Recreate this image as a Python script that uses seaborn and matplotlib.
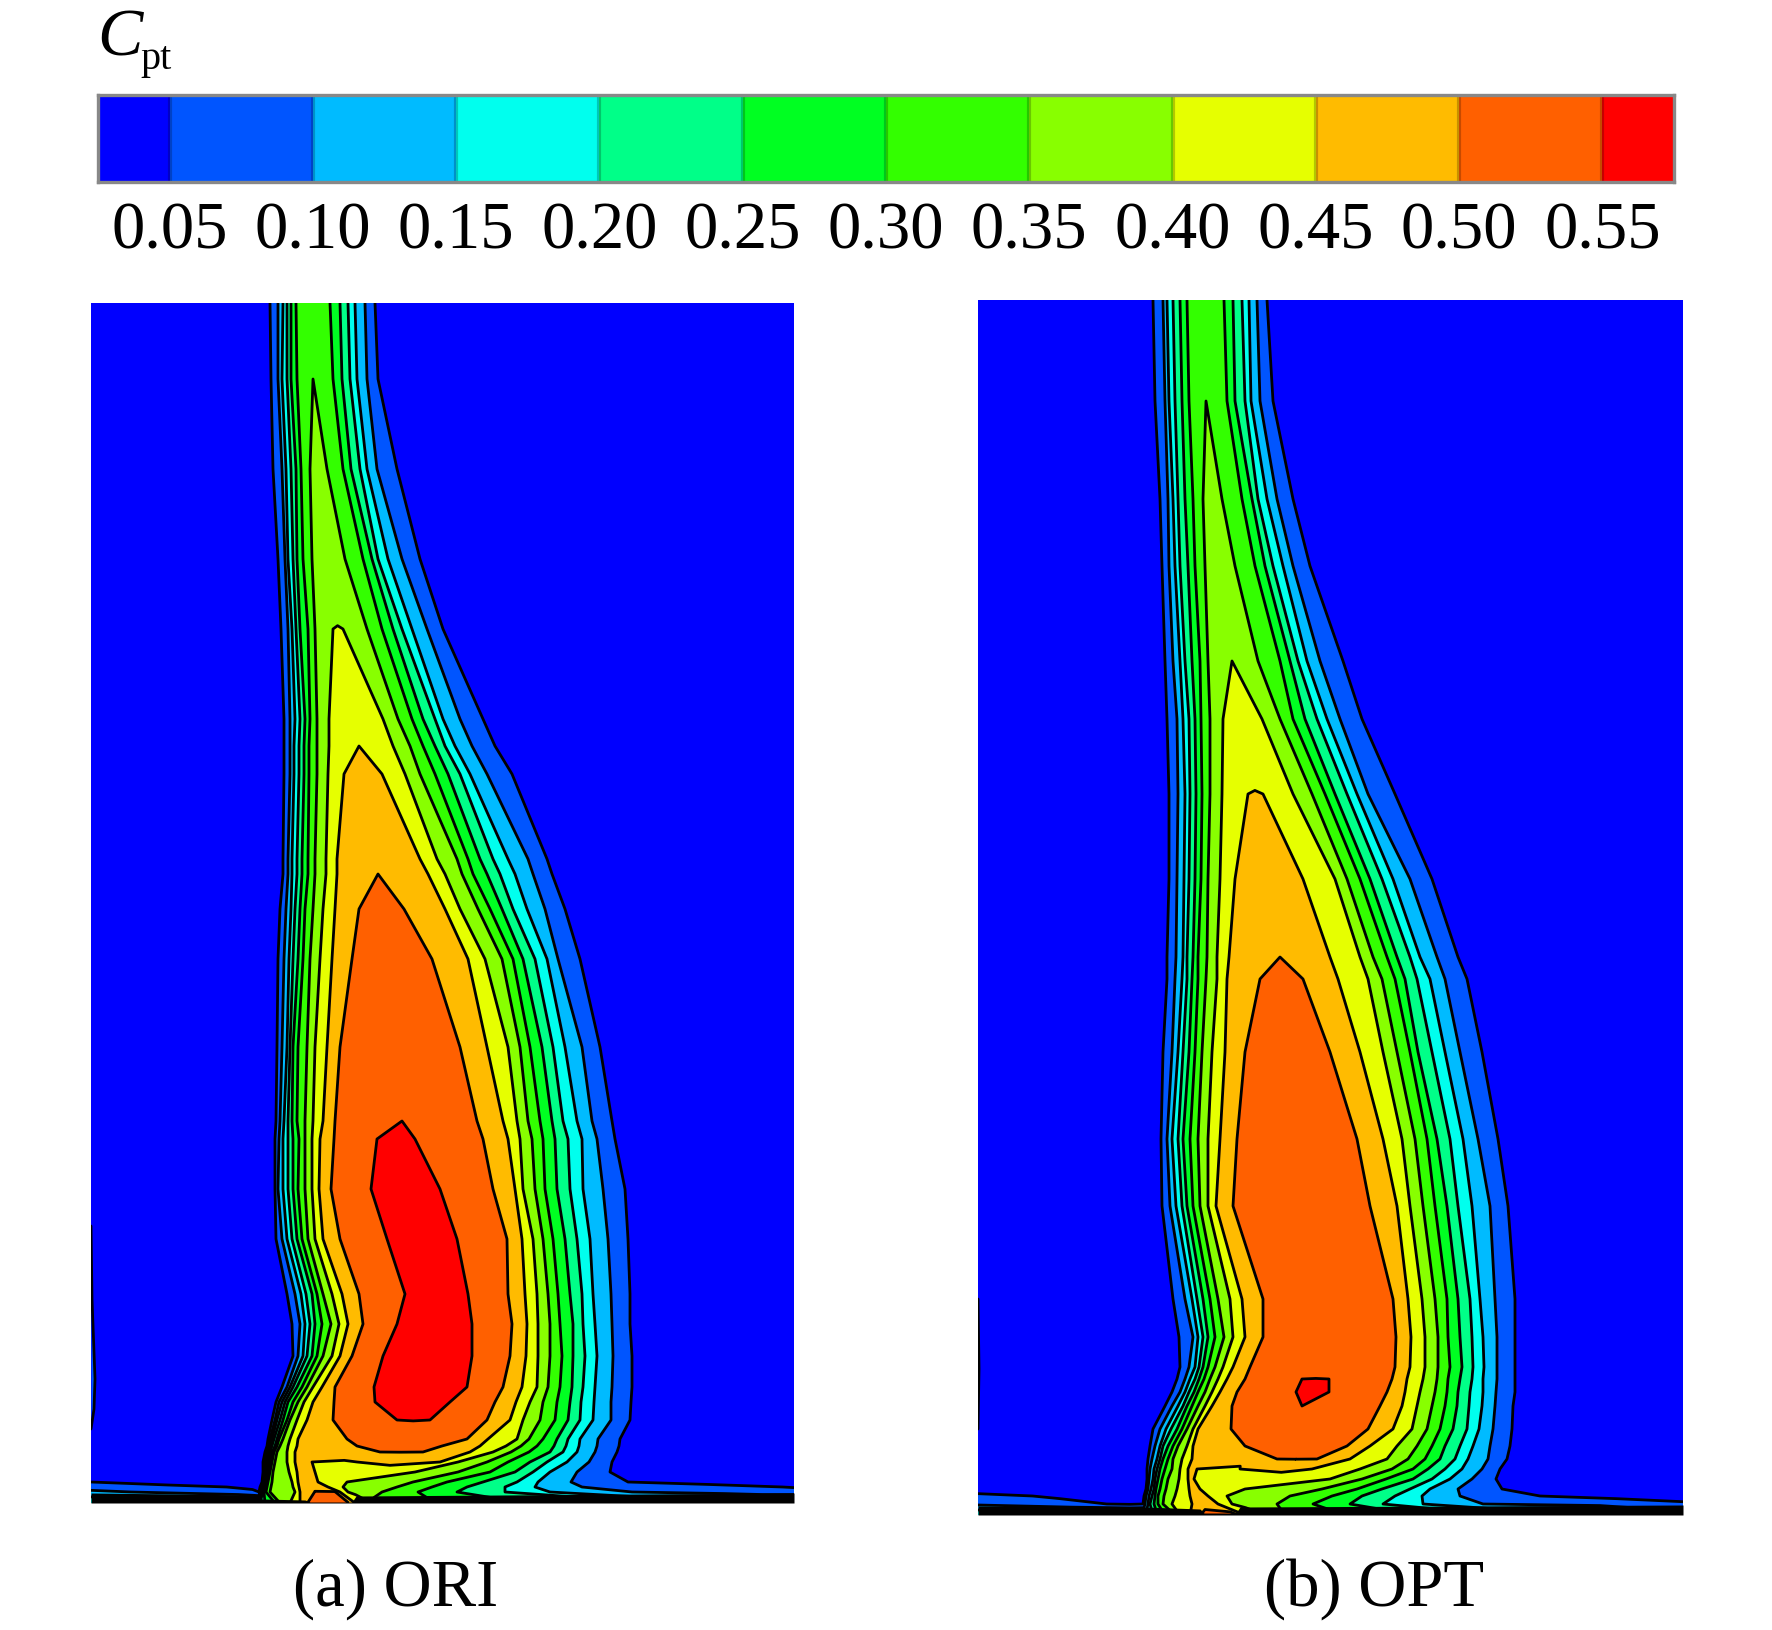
import numpy as np
import matplotlib
matplotlib.use('Agg')
import matplotlib.pyplot as plt
from matplotlib.colors import ListedColormap, BoundaryNorm
import seaborn as sns

W, H = 1772, 1631

# contour levels and band colours of the Cpt legend
levels = [0.05, 0.10, 0.15, 0.20, 0.25, 0.30, 0.35, 0.40, 0.45, 0.50, 0.55]
tick_labels = ['0.05', '0.10', '0.15', '0.20', '0.25', '0.30', '0.35', '0.40', '0.45', '0.50', '0.55']
band_colors = ['#0000ff', '#0055ff', '#00bbff', '#00ffee', '#00ff88', '#00ff22',
               '#33ff00', '#88ff00', '#e6ff00', '#ffbb00', '#ff6000', '#ff0000']
bar_cells = [0.04, 0.06, 0.09, 0.11, 0.14, 0.16, 0.19, 0.21, 0.24, 0.26, 0.29,
             0.31, 0.34, 0.36, 0.39, 0.41, 0.44, 0.46, 0.49, 0.51, 0.54, 0.56]

# ORI: where each level crosses a row (left and right of the core)
ori_y = [304, 380, 470, 560, 630, 720, 747, 775, 860, 875, 910, 960, 1048, 1122, 1140,
         1190, 1240, 1295, 1325, 1357, 1388, 1403, 1421, 1440, 1447, 1453]
ori_peak = [.33, .35, .38, .38, .401, .43, .45, .48, .48, .50, .53, .53, .53, .55, .58,
            .58, .58, .58, .58, .58, .58, .58, .551, .53, .53, .501]
ori_left = [
    [270, 278, 283, 287, 291, 296],
    [271, 278, 282, 287, 291, 297, 312],
    [273, 282, 286, 291, 296, 301, 310],
    [278, 285, 288, 293, 297, 303, 312],
    [281, 288, 292, 296, 300, 308, 315, 333],
    [284, 290, 295, 300, 305, 310, 317, 329],
    [284, 290, 294, 299, 304, 309, 317, 329, 358],
    [284, 290, 294, 299, 304, 309, 317, 328, 344],
    [283, 288, 292, 297, 302, 308, 315, 326, 337],
    [283, 288, 292, 297, 302, 308, 315, 326, 337, 377],
    [280, 286, 291, 295, 300, 305, 313, 323, 335, 359],
    [278, 284, 289, 293, 298, 303, 310, 320, 332, 352],
    [277, 282, 287, 290, 293, 298, 307, 315, 327, 340],
    [276, 280, 284, 288, 292, 297, 305, 313, 323, 335, 401],
    [275, 279, 283, 288, 293, 299, 305, 312, 320, 334, 377],
    [275, 278, 283, 288, 293, 298, 305, 312, 319, 331, 371],
    [276, 282, 287, 292, 297, 302, 308, 315, 323, 340, 387],
    [287, 295, 301, 306, 312, 317, 323, 332, 342, 359, 405],
    [292, 300, 305, 310, 315, 322, 331, 339, 348, 363, 397],
    [293, 298, 303, 307, 312, 317, 323, 332, 340, 352, 383],
    [282, 287, 290, 293, 297, 302, 307, 313, 322, 335, 374],
    [276, 279, 282, 285, 288, 293, 298, 304, 313, 334, 375],
    [272, 275, 277, 280, 283, 287, 290, 297, 307, 333, 397],
    [268, 270, 272, 274, 277, 279, 283, 290, 298, 347],
    [267, 269, 270, 272, 275, 277, 280, 288, 297, 357],
    [265, 267, 268, 270, 272, 274, 277, 287, 295, 380],
]
ori_right = [
    [375, 365, 355, 348, 340, 330],
    [378, 367, 357, 350, 342, 333, 314],
    [397, 377, 367, 360, 351, 343, 327],
    [420, 402, 388, 378, 372, 363, 345],
    [443, 427, 412, 402, 393, 382, 367, 343],
    [483, 460, 443, 435, 423, 412, 398, 383],
    [495, 472, 455, 445, 435, 423, 410, 393, 360],
    [512, 487, 470, 460, 448, 435, 420, 405, 382],
    [547, 528, 508, 493, 480, 468, 457, 437, 420],
    [552, 533, 515, 500, 487, 473, 462, 445, 428, 379],
    [565, 545, 527, 513, 502, 490, 478, 460, 445, 404],
    [580, 558, 547, 535, 523, 513, 502, 485, 468, 432],
    [600, 582, 565, 553, 542, 530, 520, 508, 487, 460],
    [612, 592, 577, 563, 552, 540, 528, 517, 503, 477, 403],
    [615, 597, 582, 568, 555, 543, 532, 520, 508, 483, 415],
    [625, 603, 583, 570, 557, 545, 535, 523, 515, 493, 440],
    [628, 608, 590, 577, 565, 553, 543, 533, 522, 507, 457],
    [630, 611, 593, 582, 570, 558, 548, 537, 525, 508, 468],
    [630, 612, 595, 583, 573, 560, 550, 538, 527, 512, 472],
    [632, 613, 597, 585, 573, 562, 550, 538, 526, 510, 472],
    [632, 612, 595, 583, 572, 560, 548, 537, 522, 503, 467],
    [631, 611, 594, 581, 570, 557, 543, 530, 516, 495, 450],
    [630, 611, 593, 580, 568, 555, 540, 523, 510, 487, 430],
    [620, 598, 580, 568, 557, 543, 529, 517, 488, 467],
    [619, 597, 579, 566, 554, 537, 521, 506, 480, 442],
    [617, 595, 577, 563, 550, 529, 511, 493, 470, 423],
]

# ORI near the wall the profile is not single-peaked, so whole rows are listed
ori_wall_y = [1463, 1473, 1483, 1488, 1493, 1504]
ori_wall_x = [
    [91, 255, 259, 263, 265, 267, 268, 270, 272, 275, 287, 295, 307, 312, 333, 357, 390, 440, 458, 487, 508, 530, 547, 567, 589, 612, 620, 794],
    [91, 255, 259, 263, 264, 265, 267, 268, 270, 273, 289, 297, 307, 315, 340, 367, 390, 405, 415, 458, 490, 515, 533, 550, 577, 610, 618, 794],
    [91, 150, 255, 262, 263, 264, 265, 267, 268, 272, 292, 298, 308, 318, 330, 340, 345, 346, 347, 413, 447, 483, 517, 538, 571, 628, 660, 794],
    [91, 180, 250, 260, 261, 262, 264, 266, 267, 271, 293, 299, 308, 328, 332, 336, 340, 342, 343, 397, 432, 467, 505, 535, 582, 700, 760, 794],
    [91, 250, 255, 259, 260, 261, 262, 264, 266, 270, 295, 300, 316, 335, 340, 342, 345, 346, 348, 382, 418, 457, 505, 550, 632, 720, 760, 794],
    [91, 200, 255, 258, 260, 262, 265, 270, 275, 280, 290, 300, 312, 345, 355, 365, 375, 385, 400, 450, 500, 550, 600, 660, 700, 750, 770, 794],
]
ori_wall_v = [
    [0, 0, .025, .05, .10, .15, .20, .25, .30, .35, .40, .45, .47, .45, .44, .45, .47, .45, .40, .35, .30, .25, .20, .15, .10, .05, 0, 0],
    [0, 0, .025, .05, .10, .15, .20, .25, .30, .35, .40, .45, .47, .45, .43, .42, .41, .405, .40, .35, .30, .25, .20, .15, .10, .05, 0, 0],
    [.05, .035, .02, .05, .10, .15, .20, .25, .30, .35, .40, .45, .46, .45, .43, .41, .405, .402, .40, .35, .30, .25, .20, .15, .10, .05, .04, .04],
    [.08, .06, .045, .05, .10, .15, .20, .25, .30, .35, .40, .45, .47, .45, .44, .43, .42, .41, .40, .35, .30, .25, .20, .15, .10, .07, .06, .045],
    [.11, .07, .055, .05, .10, .15, .20, .25, .30, .35, .40, .45, .505, .505, .45, .44, .43, .42, .40, .35, .30, .25, .20, .15, .10, .09, .085, .085],
    [.20, .20, .20, .20, .20, .25, .25, .30, .30, .35, .40, .45, .53, .53, .45, .42, .38, .34, .30, .28, .26, .24, .22, .20, .18, .16, .15, .15],
]
ori_band_x = [91, 258, 262, 305, 310, 352, 356, 794]
ori_band_top = [1494, 1496, 1500, 1501, 1503, 1503, 1497, 1494]
ori_edge_y = [1227, 1300, 1380, 1410, 1430]
ori_edge_x = [91, 92, 95, 94, 91]

# OPT: same reading as above
opt_y = [301, 402, 500, 567, 662, 720, 795, 880, 958, 980, 1053, 1140, 1207, 1300, 1338,
         1368, 1380, 1393, 1407, 1430, 1447, 1460]
opt_peak = [.33, .35, .38, .38, .40, .43, .451, .48, .50, .53, .53, .53, .53, .53, .53,
            .53, .551, .57, .55, .53, .53, .501]
opt_left = [
    [1153, 1163, 1167, 1173, 1180, 1187],
    [1155, 1165, 1169, 1175, 1182, 1189, 1205],
    [1160, 1168, 1173, 1178, 1185, 1193, 1203],
    [1162, 1169, 1175, 1180, 1188, 1195, 1205],
    [1165, 1173, 1180, 1185, 1192, 1200, 1208, 1231],
    [1167, 1177, 1183, 1189, 1195, 1201, 1210, 1223],
    [1169, 1178, 1185, 1190, 1196, 1202, 1210, 1222, 1248],
    [1169, 1177, 1184, 1189, 1195, 1201, 1208, 1220, 1235],
    [1167, 1176, 1183, 1187, 1193, 1198, 1207, 1217, 1229, 1279],
    [1167, 1175, 1182, 1187, 1192, 1198, 1206, 1217, 1227, 1260],
    [1163, 1172, 1178, 1183, 1189, 1195, 1202, 1212, 1225, 1245],
    [1161, 1167, 1172, 1178, 1183, 1190, 1198, 1208, 1220, 1237],
    [1162, 1170, 1176, 1182, 1187, 1193, 1200, 1208, 1216, 1233],
    [1173, 1185, 1192, 1197, 1203, 1210, 1218, 1230, 1242, 1263],
    [1179, 1193, 1198, 1203, 1208, 1215, 1224, 1233, 1245, 1263],
    [1180, 1189, 1195, 1199, 1203, 1208, 1215, 1223, 1233, 1250],
    [1177, 1185, 1190, 1195, 1199, 1204, 1210, 1218, 1227, 1245, 1302],
    [1172, 1180, 1185, 1189, 1194, 1198, 1205, 1212, 1220, 1237, 1296],
    [1165, 1172, 1178, 1183, 1187, 1192, 1198, 1205, 1212, 1232, 1301],
    [1153, 1160, 1166, 1171, 1177, 1182, 1187, 1193, 1198, 1231],
    [1150, 1155, 1160, 1163, 1168, 1173, 1178, 1187, 1193, 1245],
    [1148, 1152, 1157, 1160, 1163, 1168, 1173, 1182, 1192, 1277],
]
opt_right = [
    [1267, 1257, 1249, 1242, 1233, 1224],
    [1273, 1260, 1251, 1245, 1235, 1227, 1207],
    [1293, 1277, 1267, 1258, 1252, 1242, 1222],
    [1310, 1293, 1283, 1273, 1265, 1255, 1235],
    [1343, 1320, 1307, 1298, 1290, 1280, 1258, 1233],
    [1362, 1340, 1327, 1317, 1305, 1293, 1280, 1262],
    [1395, 1368, 1357, 1347, 1335, 1325, 1312, 1293, 1263],
    [1432, 1410, 1393, 1382, 1370, 1360, 1347, 1335, 1303],
    [1458, 1437, 1420, 1410, 1397, 1387, 1373, 1360, 1330, 1281],
    [1467, 1445, 1430, 1417, 1405, 1395, 1382, 1368, 1338, 1303],
    [1482, 1460, 1445, 1432, 1418, 1410, 1397, 1383, 1360, 1330],
    [1498, 1478, 1463, 1450, 1437, 1427, 1415, 1402, 1383, 1357],
    [1508, 1490, 1472, 1458, 1447, 1435, 1423, 1410, 1397, 1370],
    [1515, 1495, 1480, 1470, 1458, 1447, 1435, 1422, 1408, 1393],
    [1515, 1497, 1483, 1472, 1460, 1448, 1438, 1425, 1411, 1396],
    [1515, 1497, 1484, 1473, 1462, 1450, 1438, 1425, 1410, 1395],
    [1515, 1497, 1483, 1472, 1460, 1448, 1437, 1423, 1407, 1392, 1329],
    [1515, 1496, 1483, 1470, 1458, 1447, 1435, 1420, 1405, 1387, 1329],
    [1513, 1495, 1482, 1469, 1457, 1445, 1432, 1417, 1402, 1380, 1303],
    [1512, 1493, 1479, 1467, 1453, 1440, 1427, 1412, 1393, 1368],
    [1510, 1490, 1473, 1460, 1445, 1432, 1417, 1397, 1370, 1347],
    [1507, 1488, 1468, 1455, 1440, 1425, 1408, 1387, 1350, 1317],
]
opt_wall_y = [1470, 1480, 1490, 1497, 1505, 1516]
opt_wall_x = [
    [978, 1139, 1143, 1147, 1150, 1154, 1157, 1160, 1165, 1172, 1180, 1188, 1192, 1197, 1218, 1240, 1277, 1312, 1360, 1392, 1413, 1428, 1445, 1462, 1482, 1500, 1508, 1683],
    [978, 1139, 1143, 1147, 1149, 1153, 1155, 1158, 1162, 1168, 1179, 1188, 1192, 1194, 1230, 1263, 1290, 1310, 1330, 1362, 1386, 1413, 1432, 1450, 1472, 1496, 1504, 1683],
    [978, 1060, 1140, 1146, 1148, 1151, 1154, 1156, 1160, 1166, 1177, 1189, 1193, 1200, 1215, 1230, 1238, 1242, 1245, 1322, 1357, 1382, 1410, 1430, 1458, 1502, 1540, 1683],
    [978, 1060, 1130, 1144, 1146, 1149, 1152, 1155, 1158, 1164, 1175, 1190, 1197, 1208, 1213, 1218, 1222, 1225, 1227, 1290, 1332, 1362, 1395, 1422, 1460, 1540, 1600, 1683],
    [978, 1060, 1130, 1143, 1145, 1148, 1150, 1154, 1158, 1163, 1172, 1192, 1205, 1218, 1222, 1226, 1229, 1231, 1232, 1277, 1313, 1350, 1383, 1423, 1483, 1600, 1650, 1683],
    [978, 1100, 1130, 1146, 1150, 1155, 1160, 1165, 1170, 1175, 1180, 1190, 1205, 1235, 1245, 1255, 1265, 1275, 1330, 1360, 1400, 1430, 1470, 1500, 1550, 1600, 1650, 1683],
]
opt_wall_v = [
    [0, 0, .025, .05, .10, .15, .20, .25, .30, .35, .40, .45, .47, .45, .43, .45, .47, .45, .40, .35, .30, .25, .20, .15, .10, .05, 0, 0],
    [0, 0, .025, .05, .10, .15, .20, .25, .30, .35, .40, .45, .46, .45, .43, .42, .41, .405, .40, .35, .30, .25, .20, .15, .10, .05, 0, 0],
    [.03, .02, .02, .05, .10, .15, .20, .25, .30, .35, .40, .45, .47, .45, .43, .42, .41, .405, .40, .35, .30, .25, .20, .15, .10, .05, .04, .04],
    [.06, .045, .035, .05, .10, .15, .20, .25, .30, .35, .40, .45, .48, .45, .44, .43, .42, .41, .40, .35, .30, .25, .20, .15, .10, .05, .045, .045],
    [.09, .06, .045, .05, .10, .15, .20, .25, .30, .35, .40, .45, .48, .45, .44, .43, .42, .41, .40, .35, .30, .25, .20, .15, .10, .09, .06, .052],
    [.20, .20, .20, .20, .22, .25, .28, .30, .32, .35, .40, .45, .52, .52, .45, .42, .40, .38, .30, .28, .26, .24, .22, .20, .18, .16, .15, .15],
]
opt_band_x = [978, 1145, 1200, 1204, 1236, 1240, 1683]
opt_band_top = [1507, 1508, 1510, 1514, 1514, 1508, 1506]
opt_edge_y = [1300, 1370, 1430]
opt_edge_x = [978, 979, 978]

sns.set_theme(style='white')
plt.rcParams['font.family'] = ['Liberation Serif', 'DejaVu Serif']
plt.rcParams['text.color'] = 'black'
plt.rcParams['xtick.color'] = 'black'
palette = sns.color_palette(band_colors)
cmap = ListedColormap(palette)
bounds = [0.0] + levels + [0.6]
norm = BoundaryNorm(bounds, len(palette))


def main_row(l, r, p, x0, x1):
    # levels a row does not reach sit on its core, at the core value
    mid = (l[-1] + r[-1]) / 2
    n_l, n_r = len(levels) - len(l), len(levels) - len(r)
    xl = l + [mid] * n_l
    xr = r + [mid] * n_r
    vl = levels[:len(l)] + [p] * n_l
    vr = levels[:len(r)] + [p] * n_r
    xs = [x0, l[0] - 8, l[0] - 4] + xl + [mid] + xr[::-1] + [r[0] + 8, x1]
    vs = [0, 0, 0.025] + vl + [p] + vr[::-1] + [0, 0]
    return xs, vs


def panel(x0, x1, y_main, left, right, peak, y_wall, wall_x, wall_v, band_x, band_top, edge_x, edge_y):
    y0, y1 = y_main[0], y_wall[-1]
    ax = fig.add_axes([x0 / W, 1 - y1 / H, (x1 - x0) / W, (y1 - y0) / H])
    rows = [main_row(l, r, p, x0, x1) for l, r, p in zip(left, right, peak)]
    gx = np.array([r[0] for r in rows] + wall_x, dtype=float)
    z = np.array([r[1] for r in rows] + wall_v, dtype=float)
    gy = np.tile(np.array(y_main + y_wall, dtype=float)[:, None], (1, gx.shape[1]))
    ax.contourf(gx, gy, z, levels=bounds, colors=palette)
    ax.contour(gx, gy, z, levels=levels, colors='black', linewidths=2.0)
    ax.fill_between(band_x, band_top, y1, color='black', lw=0)
    ax.fill_betweenx(edge_y, x0, edge_x, color=palette[1], lw=0)
    ax.plot(edge_x, edge_y, color='black', lw=2.0)
    ax.set_xlim(x0, x1)
    ax.set_ylim(y1, y0)
    ax.axis('off')
    return ax


fig = plt.figure(figsize=(W / 100, H / 100), dpi=100)

# legend strip
cax = fig.add_axes([98 / W, 1 - 183 / H, (1674 - 98) / W, (183 - 96) / H])
sns.heatmap(np.array([bar_cells]), ax=cax, cmap=cmap, norm=norm, cbar=False,
            xticklabels=False, yticklabels=False)
ticks = np.arange(1, 22, 2)
cax.vlines(ticks, 0, 1, color='black', alpha=0.22, lw=3)
cax.set_xticks(ticks)
cax.set_xticklabels(tick_labels, fontsize=48, rotation=0)
cax.tick_params(axis='x', length=0, pad=13, bottom=True)
for s in cax.spines.values():
    s.set_visible(True)
    s.set_color('#888888')
    s.set_linewidth(2.4)

fig.text(97 / W, 1 - 56 / H, 'C', fontsize=49, style='italic', ha='left', va='baseline')
fig.text(140 / W, 1 - 69 / H, 'pt', fontsize=29, ha='left', va='baseline')

panel(91, 794, ori_y, ori_left, ori_right, ori_peak, ori_wall_y, ori_wall_x, ori_wall_v,
      ori_band_x, ori_band_top, ori_edge_x, ori_edge_y)
panel(978, 1683, opt_y, opt_left, opt_right, opt_peak, opt_wall_y, opt_wall_x, opt_wall_v,
      opt_band_x, opt_band_top, opt_edge_x, opt_edge_y)

fig.text(396 / W, 1 - 1589 / H, '(a) ORI', fontsize=48, ha='center', va='center')
fig.text(1374 / W, 1 - 1589 / H, '(b) OPT', fontsize=48, ha='center', va='center')

fig.savefig('out.png', dpi=100)
